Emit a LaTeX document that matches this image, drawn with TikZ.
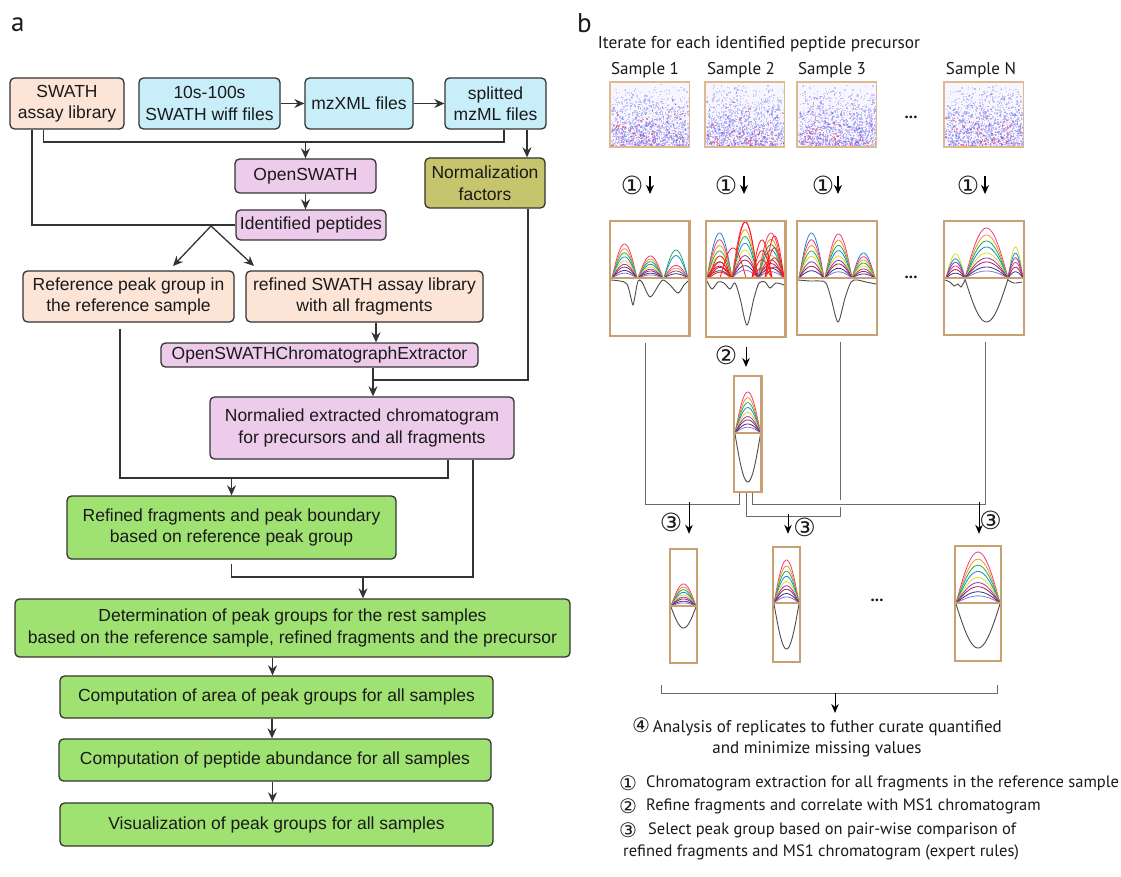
\documentclass[tikz,border=0pt]{standalone}
\usepackage{fontspec}
\setmainfont{Liberation Sans}
\newfontfamily\rfont{PT Sans}
\newfontfamily\cfont{DejaVu Sans}
\usetikzlibrary{arrows.meta,calc}
\definecolor{bdr}{HTML}{333333}
\definecolor{txt}{HTML}{1A1A1A}
\definecolor{peach}{HTML}{FCE4D6}
\definecolor{lblue}{HTML}{C8EEFA}
\definecolor{lpink}{HTML}{EDCBEA}
\definecolor{olive}{HTML}{C6C46C}
\definecolor{lgreen}{HTML}{A0E272}
\definecolor{gln}{HTML}{6A6A6A}
\definecolor{tanb}{HTML}{C9A071}
\definecolor{tanl}{HTML}{DDBA92}
\definecolor{scbg}{HTML}{F7F6FE}
\definecolor{dotb}{HTML}{4A4AEA}
\definecolor{dotr}{HTML}{E8305A}
\definecolor{pk}{HTML}{EC3B83}
\definecolor{orn}{HTML}{F7931E}
\definecolor{grn}{HTML}{1FAF4B}
\definecolor{blu}{HTML}{1E88D0}
\definecolor{yel}{HTML}{DCDC22}
\definecolor{pur}{HTML}{8A3FA0}
\definecolor{drd}{HTML}{B0174A}
\definecolor{nav}{HTML}{2B3990}
\definecolor{lpu}{HTML}{9B6FC8}
\definecolor{rd}{HTML}{FF1A1A}
\def\LA{pk/1,orn/.86,grn/.74,blu/.62,yel/.5,pur/.4,drd/.32,nav/.22,lpu/.14}
\def\LB{grn/1,blu/.8,pk/.45,orn/.35,pur/.25,nav/.15}
\def\LC{blu/1,pk/.85,orn/.72,grn/.6,yel/.48,pur/.36,drd/.26,nav/.16}
\def\LD{yel/1,blu/.8,pur/.65,pk/.5,drd/.35,nav/.2}
\def\LR{rd/1,rd/.72,rd/.48,rd/.26}
\def\LRo{rd/1}
\newcommand\arches[5]{\foreach \cc/\ff in #5 {\draw[\cc,trace] plot[domain=0:180,samples=31] ({#1+(#2)*\x/180},{#3-(#4)*\ff*sin(\x)});}}
\newcommand\dip[4]{\draw[blk] plot[domain=0:180,samples=31] ({#1+(#2)*\x/180},{#3+(#4)*sin(\x)});}
\newcommand\scat[2]{%
 \fill[scbg] (#1,#2) rectangle ++(79.5,65);
 \foreach \i in {1,...,1300}{%
  \pgfmathsetmacro\px{#1+1+77.5*rnd}%
  \pgfmathsetmacro\py{#2+1+62.5*sqrt(rnd)}%
  \fill[dotb,opacity=0.26] (\px,\py) rectangle ++(1.4,1.4);}
 \foreach \i in {1,...,110}{%
  \pgfmathsetmacro\px{#1+1+77.5*rnd}%
  \pgfmathsetmacro\py{#2+1+62.5*sqrt(sqrt(rnd))}%
  \fill[dotr,opacity=0.5] (\px,\py) rectangle ++(1.4,1.4);}
}
\begin{document}
\begin{tikzpicture}[x=1pt,y=-1pt,
  fbox/.style={draw=bdr, line width=1.3pt, rounded corners=4.5pt, align=center, inner sep=0pt, text=txt, font=\fontsize{17.5}{21.5}\selectfont},
  ln/.style={draw=bdr, line width=1.3pt},
  arr/.style={ln, -{Stealth[length=10pt,width=9pt]}},
  gl/.style={draw=gln, line width=0.9pt},
  rarr/.style={draw=black, line width=1pt, -{Stealth[length=9pt,width=7.5pt]}},
  rarrb/.style={draw=black, line width=1.6pt, -{Stealth[length=9pt,width=8pt]}},
  rt/.style={font=\rfont\fontsize{16.5}{21}\selectfont, text=txt, inner sep=0pt},
  ct/.style={font=\cfont\fontsize{25}{25}\selectfont, text=txt, inner sep=0pt},
  cl/.style={font=\cfont\fontsize{20}{20}\selectfont, text=txt, inner sep=0pt},
  dots/.style={font=\rfont\bfseries\fontsize{17}{17}\selectfont, text=txt, inner sep=0pt},
  chbox/.style={draw=tanb, line width=2.4pt, inner sep=0pt},
  scbox/.style={draw=tanl, line width=1.6pt, inner sep=0pt, minimum width=79.5pt, minimum height=65pt},
  trace/.style={line width=0.8pt},
  blk/.style={draw=black!70, line width=0.9pt},
  tanline/.style={draw=tanb, line width=2.4pt},
  lab/.style={font=\rfont\fontsize{27}{27}\selectfont, text=txt, inner sep=0pt}
]
\useasboundingbox (0,0) rectangle (1121,877);
\fill[white] (0,0) rectangle (1121,877);

% ---------- panel labels
\node[lab, anchor=base west] (la) at (11,32) {a};
\node[lab, anchor=base west] (lb) at (577,33) {b};

% ---------- panel a nodes
\node[fbox, fill=peach, minimum width=114pt, minimum height=51pt] (swath) at (67,103.5) {SWATH\\assay library};
\node[fbox, fill=lblue, minimum width=141pt, minimum height=51pt] (wiff) at (209.5,103.5) {10s-100s\\SWATH wiff files};
\node[fbox, fill=lblue, minimum width=108pt, minimum height=51pt] (mzxml) at (359,103.5) {mzXML files};
\node[fbox, fill=lblue, minimum width=101pt, minimum height=51pt] (split) at (495.5,103.5) {splitted\\mzML files};
\node[fbox, fill=lpink, minimum width=141pt, minimum height=34pt] (osw) at (305.5,176) {OpenSWATH};
\node[fbox, fill=lpink, minimum width=150pt, minimum height=30pt] (idp) at (311,225) {Identified peptides};
\node[fbox, fill=olive, minimum width=120pt, minimum height=50pt] (norm) at (485,183) {Normalization\\factors};
\node[fbox, fill=peach, minimum width=211pt, minimum height=51pt] (ref) at (128.5,296.5) {Reference peak group in\\the reference sample};
\node[fbox, fill=peach, minimum width=237pt, minimum height=51pt] (rlib) at (364.5,296.5) {refined SWATH assay library\\with all fragments};
\node[fbox, fill=lpink, minimum width=317pt, minimum height=24pt] (extr) at (319.5,355) {OpenSWATHChromatographExtractor};
\node[fbox, fill=lpink, minimum width=304pt, minimum height=62pt] (nchr) at (362,428) {Normalied extracted chromatogram\\for precursors and all fragments};
\node[fbox, fill=lgreen, minimum width=329pt, minimum height=63pt] (rfd) at (231.5,527.5) {Refined fragments and peak boundary\\based on reference peak group};
\node[fbox, fill=lgreen, minimum width=555pt, minimum height=58pt] (det) at (292.5,628) {Determination of peak groups for the rest samples\\based on the reference sample, refined fragments and the precursor};
\node[fbox, fill=lgreen, minimum width=433pt, minimum height=42pt] (area) at (276.5,697) {Computation of area of peak groups for all samples};
\node[fbox, fill=lgreen, minimum width=432pt, minimum height=42pt] (abund) at (275,760) {Computation of peptide abundance for all samples};
\node[fbox, fill=lgreen, minimum width=433pt, minimum height=43pt] (vis) at (276.5,824.5) {Visualization of peak groups for all samples};

% ---------- panel a connectors
\draw[arr] (wiff) -- (mzxml);
\draw[arr] (mzxml) -- (split);
\coordinate (bus) at (0,142);
\coordinate (swA) at ([xshift=-23.4pt]swath.south);
\coordinate (swB) at ([xshift=-35pt]swath.south);
\coordinate (spA) at ([xshift=8.5pt]split.south);
\coordinate (spB) at ([xshift=31.5pt]split.south);
\draw[ln] (swA) -- (swA |- bus) -- (spA |- bus) -- (spA);
\draw[arr] (osw.north |- bus) -- (osw.north);
\draw[ln] (swB) |- (idp.west);
\draw[arr] (spB) -- (spB |- norm.north);
\draw[arr] (osw.south) -- (osw.south |- idp.north);
\coordinate (apex) at (211,226);
\coordinate (ra) at (173,266);
\coordinate (rb) at (254,266);
\draw[arr] (apex) -- (ra);
\draw[arr] (apex) -- (rb);
\coordinate (rlA) at ([xshift=11.5pt]rlib.south);
\draw[arr] (rlA) -- (rlA |- extr.north);
\coordinate (exA) at ([xshift=53.5pt]extr.south);
\draw[arr] (exA) -- (exA |- nchr.north);
\coordinate (nmA) at ([xshift=43pt]norm.south);
\draw[ln] (nmA) -- (nmA |- 0,380) -- (exA |- 0,380);
\coordinate (rL) at ([xshift=-8.5pt]ref.south);
\coordinate (h1) at (0,478);
\coordinate (ncA) at ([xshift=86pt]nchr.south);
\draw[ln] ($(rL)+(0,6)$) -- (rL |- h1) -- (ncA |- h1) -- (ncA);
\draw[arr] (rfd.north |- h1) -- (rfd.north);
\coordinate (h2) at (0,577);
\coordinate (ncB) at ([xshift=111pt]nchr.south);
\draw[ln] (ncB) -- (ncB |- h2) -- (rfd.south |- h2) -- ($(rfd.south)+(0,4)$);
\coordinate (dtA) at ([xshift=70.5pt]det.north);
\draw[arr] (dtA |- h2) -- (dtA);
\coordinate (arA) at ([xshift=-4pt]area.north);
\draw[arr] (arA |- det.south) -- (arA);
\coordinate (abA) at ([xshift=-3pt]abund.north);
\draw[arr] (abA |- area.south) -- (abA);
\coordinate (viA) at ([xshift=-4pt]vis.north);
\draw[arr] (viA |- abund.south) -- (viA);

% ---------- panel b : header
\node[rt, font=\rfont\fontsize{17.3}{21}\selectfont] (iter) at (759,44) {Iterate for each identified peptide precursor};
\node[rt, font=\rfont\fontsize{17}{21}\selectfont] (sl1) at (645,70) {Sample 1};
\node[rt, font=\rfont\fontsize{17}{21}\selectfont] (sl2) at (741,70) {Sample 2};
\node[rt, font=\rfont\fontsize{17}{21}\selectfont] (sl3) at (832,70) {Sample 3};
\node[rt, font=\rfont\fontsize{17}{21}\selectfont] (slN) at (981,70) {Sample N};

% scatter images
\pgfmathsetseed{7}
\scat{610}{82}
\scat{705}{82}
\scat{797}{82}
\scat{944}{82}
\node[scbox] (s1) at (649.75,114.5) {};
\node[scbox] (s2) at (744.75,114.5) {};
\node[scbox] (s3) at (836.75,114.5) {};
\node[scbox] (sN) at (983.75,114.5) {};
\node[dots] (d1) at (911,117) {...};

% step 1 arrows
\node[ct] (o1a) at (632,185) {①};
\node[ct] (o1b) at (726,185) {①};
\node[ct] (o1c) at (823,185) {①};
\node[ct] (o1d) at (968,185) {①};
\coordinate (q1s) at (650,176); \coordinate (q1e) at (650,194);
\coordinate (q2s) at (744,176); \coordinate (q2e) at (744,194);
\coordinate (q3s) at (838,176); \coordinate (q3e) at (838,194);
\coordinate (q4s) at (985,176); \coordinate (q4e) at (985,194);
\draw[rarrb] (q1s) -- (q1e);
\draw[rarrb] (q2s) -- (q2e);
\draw[rarrb] (q3s) -- (q3e);
\draw[rarrb] (q4s) -- (q4e);

% chromatograms: sample 1
\arches{612}{25}{278}{34}{\LA}
\arches{638}{25}{278}{22}{\LA}
\arches{664}{24}{278}{28}{\LB}
\draw[blk] plot[smooth] coordinates {(611,280) (620,281) (627,284) (631,298) (633,305) (635,296) (638,281) (642,282) (650,297) (658,286) (663,280) (670,285) (678,293) (684,285) (688,281)};
% sample 2
\arches{707}{25}{278}{45}{\LC}
\arches{732}{26}{278}{56}{\LA}
\arches{758}{26}{278}{45}{\LA}
\arches{709}{22}{278}{22}{\LR}
\arches{733}{25}{278}{56}{\LRo}
\arches{752}{20}{278}{38}{\LR}
\arches{765}{19}{278}{42}{\LR}
\arches{720}{26}{278}{30}{\LRo}
\draw[blk] plot[smooth] coordinates {(707,281) (712,289) (718,282) (724,283) (730,289) (735,283) (740,298) (747,325) (754,298) (759,283) (765,282) (770,288) (776,283) (784,285)};
% sample 3
\arches{799}{25}{278}{45}{\LC}
\arches{825}{27}{278}{44}{\LA}
\arches{852}{23}{278}{25}{\LC}
\draw[blk] plot[smooth] coordinates {(798,280) (810,281) (820,281) (826,283) (831,298) (838,322) (845,298) (851,282) (857,280) (866,282) (876,284)};
% sample N
\arches{946}{19}{278}{24}{\LD}
\arches{965}{43}{278}{50}{\LA}
\arches{1008}{15}{278}{31}{\LD}
\draw[blk] plot[smooth] coordinates {(945,280) (950,282) (954,286) (958,284) (961,287) (965,280)};
\dip{965}{43}{279}{43}
\draw[blk] plot[smooth] coordinates {(1008,280) (1014,283) (1022,282)};
\node[dots] (d2) at (911,277) {...};

\node[chbox, minimum width=79.5pt, minimum height=115pt] (c1) at (649.75,278.5) {};
\node[chbox, minimum width=79.6pt, minimum height=116pt] (c2) at (745.8,279) {};
\node[chbox, minimum width=80pt, minimum height=114pt] (c3) at (837,278) {};
\node[chbox, minimum width=80pt, minimum height=114pt] (cN) at (984,278) {};
\draw[tanline] (c1.west |- 0,278) -- (c1.east |- 0,278);
\draw[tanline] (c2.west |- 0,278) -- (c2.east |- 0,278);
\draw[tanline] (c3.west |- 0,278) -- (c3.east |- 0,278);
\draw[tanline] (cN.west |- 0,278) -- (cN.east |- 0,278);

% refined (middle)
\arches{735}{25.5}{433}{41}{\LA}
\dip{735}{25.5}{434}{48}
\node[chbox, minimum width=27.5pt, minimum height=116pt] (rm) at (747.75,434) {};
\draw[tanline] (rm.west |- 0,433) -- (rm.east |- 0,433);
\node[ct] (o2) at (726,355) {②};
\coordinate (q5s) at (746,347); \coordinate (q5e) at (746,367);
\draw[rarr] (q5s) -- (q5e);

% connectors to step 3
\draw[gl] ($(c1.south)+(-4.5,6)$) |- ($(rm.south)+(-8.75,11)$) -- ($(rm.south)+(-8.75,0)$);
\draw[gl] ($(c3.south)+(3,6)$) |- ($(rm.south)+(-1.75,23)$) -- ($(rm.south)+(-1.75,0)$);
\fill[white] (838,499.5) rectangle (842,506.5);
\draw[gl] ($(cN.south)+(1,6)$) |- ($(rm.south)+(4.25,11)$) -- ($(rm.south)+(4.25,0)$);

% bottom boxes
\arches{671}{25}{606}{22}{\LA}
\dip{671}{25}{607}{21}
\arches{774}{25}{603}{43}{\LA}
\dip{774}{25}{604}{45}
\arches{956}{44}{603}{51}{\LA}
\dip{956}{44}{604}{44}
\node[chbox, minimum width=27pt, minimum height=114pt] (b1) at (683.5,606) {};
\node[chbox, minimum width=27pt, minimum height=115pt] (b2) at (786.5,604.5) {};
\node[chbox, minimum width=46pt, minimum height=115pt] (b3) at (978,603.5) {};
\draw[tanline] (b1.west |- 0,606) -- (b1.east |- 0,606);
\draw[tanline] (b2.west |- 0,603) -- (b2.east |- 0,603);
\draw[tanline] (b3.west |- 0,603) -- (b3.east |- 0,603);
\node[dots] (d3) at (877,600) {...};

\draw[rarr] ($(b1.north)+(5.5,-46)$) -- ($(b1.north)+(5.5,-14)$);
\draw[rarr] ($(b2.north)+(1.5,-32)$) -- ($(b2.north)+(1.5,-12)$);
\draw[rarr] ($(b3.north)+(1,-43)$) -- ($(b3.north)+(1,-11)$);
\node[ct] (o3a) at (671,522) {③};
\node[ct] (o3b) at (804.5,527) {③};
\node[ct] (o3c) at (990.5,520) {③};

% bracket and step 4
\coordinate (brL) at (661.5,685);
\coordinate (brR) at (997,685);
\draw[gl] (brL) -- ++(0,8) -| (brR);
\coordinate (q6s) at (835,693); \coordinate (q6e) at (835,713);
\draw[rarr] (q6s) -- (q6e);
\node[rt, align=center, font=\rfont\fontsize{17}{21}\selectfont] (s4) at (817,737.5) {{\cfont\fontsize{20}{20}\selectfont ④}\,Analysis of replicates to futher curate quantified\\and minimize missing values};

% legend
\node[cl] (g1) at (628,783) {①};
\node[rt, anchor=west] (t1) at (646,783) {Chromatogram extraction for all fragments in the reference sample};
\node[cl] (g2) at (628,806) {②};
\node[rt, anchor=west] (t2) at (646,806) {Refine fragments and correlate with MS1 chromatogram};
\node[cl] (g3) at (628,830) {③};
\node[rt, anchor=west] (t3) at (648,830) {Select peak group based on pair-wise comparison of};
\node[rt, anchor=west] (t3b) at (623,852) {refined fragments and MS1 chromatogram (expert rules)};
\end{tikzpicture}
\end{document}
